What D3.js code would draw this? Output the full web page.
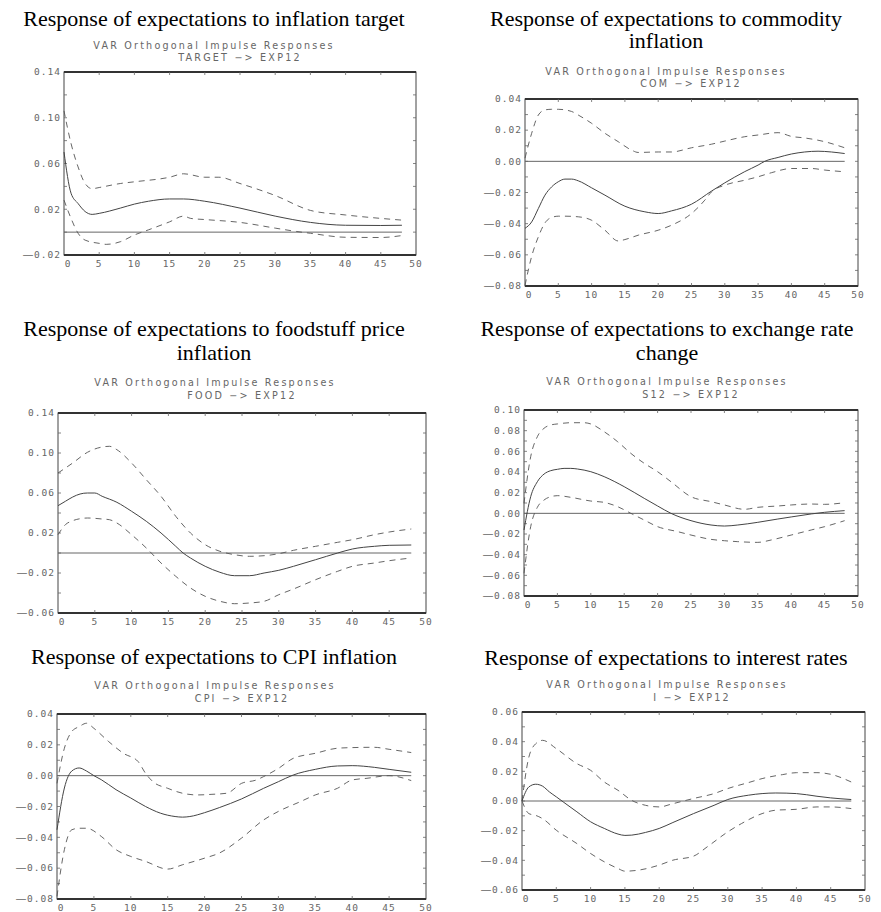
<!DOCTYPE html>
<html>
<head>
<meta charset="utf-8">
<script src="https://cdn.jsdelivr.net/npm/d3@7"></script>
<style>
  body { margin: 0; background: #fff; }
  .title { font-family: "Liberation Serif", "Times New Roman", serif; font-size: 20px; fill: #000; }
  .sub { font-family: "DejaVu Sans", sans-serif; font-size: 9.6px; letter-spacing: 2.2px; fill: #666; }
  .tick { font-family: "DejaVu Sans Mono", monospace; font-size: 9.5px; letter-spacing: 1px; fill: #666; }
  .dash { font-family: "DejaVu Sans", sans-serif; font-size: 11px; letter-spacing: 0.5px; }
</style>
</head>
<body>
<svg id="chart" width="881" height="912"></svg>
<script>
// impulse horizons 0..48, values as [horizon, response]
const targetResp  = [[0,0.070],[1,0.034],[2,0.025],[3,0.018],[4,0.0155],[5,0.0164],[8,0.021],[10,0.0245],[12,0.027],[15,0.029],[17,0.029],[20,0.027],[25,0.021],[30,0.014],[35,0.0085],[40,0.006],[45,0.0058],[48,0.006]];
const targetUpper = [[0,0.106],[1,0.0775],[2,0.057],[3,0.0425],[4,0.038],[5,0.039],[8,0.0425],[10,0.044],[15,0.048],[17,0.051],[20,0.048],[22,0.048],[25,0.0425],[30,0.032],[35,0.019],[40,0.015],[45,0.012],[48,0.0105]];
const targetLower = [[0,0.028],[1,0.012],[2,-0.001],[3,-0.007],[5,-0.0098],[6,-0.0107],[8,-0.0084],[10,-0.0025],[12,0.002],[15,0.009],[17,0.014],[18,0.012],[20,0.011],[25,0.0085],[30,0.0035],[33,0.0006],[35,-0.001],[40,-0.0045],[45,-0.0047],[48,-0.003]];

const comResp  = [[0,-0.043],[1,-0.0389],[2,-0.0303],[3,-0.0217],[4,-0.0164],[5,-0.0131],[6,-0.0114],[7,-0.0114],[8,-0.0125],[10,-0.017],[12,-0.0217],[15,-0.0288],[18,-0.0324],[20,-0.0335],[22,-0.0318],[25,-0.0275],[28,-0.0191],[30,-0.0138],[33,-0.0066],[35,-0.0024],[36,0],[38,0.0025],[40,0.0047],[42,0.006],[44,0.0065],[46,0.006],[48,0.005]];
const comUpper = [[0,0.002],[1,0.018],[2,0.0297],[3,0.033],[4,0.0334],[5,0.0334],[7,0.032],[8,0.0297],[10,0.0244],[12,0.018],[14,0.0126],[16,0.0072],[17,0.0057],[20,0.006],[22,0.006],[25,0.0087],[28,0.011],[30,0.013],[33,0.0158],[35,0.0169],[38,0.0184],[40,0.016],[42,0.015],[45,0.0126],[48,0.0087]];
const comLower = [[0,-0.0796],[1,-0.061],[2,-0.0485],[3,-0.0395],[4,-0.036],[5,-0.0352],[6,-0.0352],[8,-0.0356],[10,-0.0378],[12,-0.0442],[14,-0.0511],[15,-0.0502],[17,-0.0474],[20,-0.0442],[22,-0.041],[25,-0.0335],[27,-0.0249],[28,-0.0196],[30,-0.0153],[33,-0.0121],[35,-0.0099],[37,-0.0073],[40,-0.0046],[43,-0.0046],[45,-0.0056],[48,-0.0067]];

const foodResp  = [[0,0.0473],[1,0.0517],[2,0.056],[3,0.059],[4,0.06],[5,0.06],[6,0.0567],[8,0.0507],[10,0.0417],[12,0.0317],[14,0.02],[16,0.0067],[17,0],[18,-0.005],[20,-0.0133],[22,-0.0193],[24,-0.0227],[26,-0.0227],[28,-0.02],[30,-0.0173],[32,-0.0133],[35,-0.0067],[38,0],[40,0.004],[43,0.0067],[45,0.0077],[48,0.008]];
const foodUpper = [[0,0.08],[2,0.09],[4,0.1007],[6,0.106],[7,0.1067],[8,0.1033],[10,0.09],[12,0.0733],[14,0.0567],[16,0.0367],[18,0.02],[20,0.0083],[22,0.0017],[24,-0.0017],[26,-0.0033],[28,-0.0027],[30,-0.0007],[32,0.0027],[35,0.0067],[38,0.0107],[40,0.0133],[43,0.0183],[45,0.021],[48,0.024]];
const foodLower = [[0,0.0183],[1,0.0283],[2,0.0323],[3,0.0343],[4,0.035],[6,0.034],[7,0.0333],[8,0.03],[10,0.0183],[12,0.005],[14,-0.01],[16,-0.0233],[18,-0.035],[20,-0.0433],[22,-0.0483],[24,-0.0507],[26,-0.05],[28,-0.0483],[30,-0.0417],[32,-0.036],[35,-0.0267],[38,-0.0183],[40,-0.0133],[43,-0.01],[45,-0.0077],[48,-0.005]];

const s12Resp  = [[0,-0.0161],[1,0.0161],[2,0.0306],[3,0.038],[4,0.0413],[5,0.0426],[6,0.0435],[7,0.0435],[8,0.0429],[10,0.0403],[12,0.0355],[15,0.0258],[18,0.0145],[20,0.0071],[22,0],[25,-0.0071],[28,-0.0113],[30,-0.0123],[32,-0.0113],[35,-0.0087],[38,-0.0055],[40,-0.0035],[43,-0.0006],[45,0.001],[48,0.0026]];
const s12Upper = [[0,0.0097],[1,0.0548],[2,0.0742],[3,0.0823],[4,0.0855],[5,0.0865],[7,0.0877],[9,0.0877],[10,0.0865],[12,0.079],[14,0.0694],[16,0.058],[18,0.0484],[20,0.0403],[22,0.0306],[25,0.0161],[28,0.0113],[30,0.0081],[33,0.0039],[35,0.0058],[38,0.0071],[40,0.0081],[43,0.009],[45,0.0087],[48,0.0103]];
const s12Lower = [[0,-0.058],[1,-0.0129],[2,0.0058],[3,0.0129],[4,0.0161],[5,0.0171],[7,0.0155],[10,0.0119],[12,0.0106],[14,0.0065],[16,0],[18,-0.0065],[20,-0.0129],[23,-0.0177],[25,-0.021],[28,-0.0252],[30,-0.0265],[32,-0.0274],[35,-0.0281],[37,-0.0258],[40,-0.021],[43,-0.0161],[45,-0.0129],[48,-0.0071]];

const cpiResp  = [[0,-0.0351],[1,-0.008],[2,0.003],[3,0.005],[4,0.003],[5,0],[6,-0.0026],[8,-0.0091],[10,-0.0145],[12,-0.02],[14,-0.0243],[16,-0.0265],[17,-0.0269],[18,-0.0265],[20,-0.024],[22,-0.0207],[25,-0.0151],[28,-0.0082],[30,-0.0039],[32,0.0004],[35,0.0041],[38,0.0063],[40,0.0065],[43,0.0054],[45,0.0041],[48,0.0022]];
const cpiUpper = [[0,-0.005],[1,0.0178],[2,0.0286],[3,0.0318],[4,0.034],[5,0.0307],[7,0.0221],[9,0.0145],[11,0.0091],[12,0.0015],[13,-0.0039],[15,-0.0082],[17,-0.0114],[19,-0.0125],[21,-0.0121],[23,-0.0114],[25,-0.005],[27,-0.0028],[28,-0.0006],[30,0.0047],[32,0.0112],[35,0.0145],[38,0.0178],[40,0.0182],[43,0.0184],[45,0.0171],[48,0.015]];
const cpiLower = [[0,-0.0783],[1,-0.048],[2,-0.0351],[3,-0.0341],[4,-0.0341],[6,-0.0394],[8,-0.048],[10,-0.0524],[12,-0.0556],[15,-0.0606],[17,-0.0578],[20,-0.0535],[22,-0.0502],[25,-0.0405],[28,-0.0287],[30,-0.0232],[33,-0.0168],[35,-0.0125],[38,-0.0082],[40,-0.0028],[42,-0.0017],[45,0],[48,-0.0032]];

const iResp  = [[0,0],[1,0.0095],[2,0.0113],[3,0.01],[4,0.0061],[5,0.0028],[6,-0.0006],[8,-0.0073],[10,-0.014],[12,-0.0185],[14,-0.0223],[15,-0.0232],[16,-0.023],[18,-0.0212],[20,-0.0185],[22,-0.0145],[25,-0.0085],[28,-0.0029],[30,0.001],[33,0.0039],[35,0.005],[37,0.0054],[40,0.005],[43,0.0032],[45,0.0021],[48,0.001]];
const iUpper = [[0,0],[1,0.0296],[2,0.0386],[3,0.0409],[5,0.0353],[8,0.0252],[10,0.0207],[12,0.0128],[14,0.0072],[16,0.0004],[18,-0.0029],[20,-0.004],[22,-0.0018],[25,0.0017],[28,0.005],[30,0.0084],[33,0.0124],[35,0.0151],[38,0.0178],[40,0.0191],[43,0.0191],[45,0.018],[48,0.0128]];
const iLower = [[0,0],[1,-0.0085],[2,-0.0097],[3,-0.0119],[5,-0.0197],[8,-0.0287],[10,-0.0354],[12,-0.041],[14,-0.0455],[15,-0.0473],[17,-0.0466],[20,-0.0432],[22,-0.0399],[25,-0.0372],[27,-0.0309],[30,-0.0208],[32,-0.0152],[35,-0.0085],[37,-0.0062],[40,-0.0056],[43,-0.004],[45,-0.004],[48,-0.0051]];

const shocks = ["TARGET", "COM", "FOOD", "S12", "CPI", "I"];
const panelTitles = [
  ["Response of expectations to inflation target"],
  ["Response of expectations to commodity", "inflation"],
  ["Response of expectations to foodstuff price", "inflation"],
  ["Response of expectations to exchange rate", "change"],
  ["Response of expectations to CPI inflation"],
  ["Response of expectations to interest rates"]
];
const yRanges = [[-0.02, 0.14], [-0.08, 0.04], [-0.06, 0.14], [-0.08, 0.10], [-0.08, 0.04], [-0.06, 0.06]];
const yLabelSteps = [0.04, 0.02, 0.04, 0.02, 0.02, 0.02];
const yMinorSteps = [0.02, 0.01, 0.02, 0.01, 0.01, 0.01];
const xTicks = [0, 5, 10, 15, 20, 25, 30, 35, 40, 45, 50];
const lastHorizon = 48;

const series = [
  [targetResp, targetUpper, targetLower],
  [comResp, comUpper, comLower],
  [foodResp, foodUpper, foodLower],
  [s12Resp, s12Upper, s12Lower],
  [cpiResp, cpiUpper, cpiLower],
  [iResp, iUpper, iLower]
];

// where each little graph sits on the page
const layout = [
  {L: 64,  T: 72,  R: 416, B: 255, tx: 214, ty: [26],       sx: [214, 240], sy: [49, 61]},
  {L: 525, T: 99,  R: 858, B: 286, tx: 666, ty: [26, 48],   sx: [666, 691], sy: [75, 87]},
  {L: 58,  T: 413, R: 426, B: 613, tx: 214, ty: [336, 360], sx: [215, 242], sy: [386, 399]},
  {L: 524, T: 410, R: 858, B: 596, tx: 667, ty: [336, 360], sx: [667, 691], sy: [385, 398]},
  {L: 57,  T: 714, R: 426, B: 899, tx: 214, ty: [664],      sx: [215, 242], sy: [689, 702]},
  {L: 522, T: 712, R: 865, B: 890, tx: 666, ty: [665],      sx: [667, 692], sy: [688, 701]}
];

const svg = d3.select("#chart");
const steps = (lo, hi, st) => d3.range(Math.round((hi - lo) / st) + 1).map(i => +(lo + i * st).toFixed(4));

layout.forEach((p, k) => {
  const g = svg.append("g");
  const x = d3.scaleLinear().domain([0, 50]).range([p.L, p.R]);
  const y = d3.scaleLinear().domain(yRanges[k]).range([p.B, p.T]);

  // titles (the original serif is set a bit wide)
  panelTitles[k].forEach((t, i) => {
    g.append("text").attr("class", "title")
      .attr("transform", `translate(${p.tx},${p.ty[i]}) scale(1.1,1)`)
      .attr("text-anchor", "middle").text(t);
  });
  g.append("text").attr("class", "sub")
    .attr("x", p.sx[0]).attr("y", p.sy[0]).attr("text-anchor", "middle")
    .text("VAR Orthogonal Impulse Responses");
  g.append("text").attr("class", "sub")
    .attr("x", p.sx[1]).attr("y", p.sy[1]).attr("text-anchor", "middle")
    .text(shocks[k] + " \u2212> EXP12");

  // frame: thin sides, heavier top and bottom
  g.append("rect")
    .attr("x", p.L).attr("y", p.T)
    .attr("width", p.R - p.L).attr("height", p.B - p.T)
    .attr("fill", "none").attr("stroke", "#444").attr("stroke-width", 1);
  g.append("path")
    .attr("d", `M${p.L},${p.T}H${p.R}M${p.L},${p.B}H${p.R}`)
    .attr("stroke", "#333").attr("stroke-width", 1.8);

  const inner = xTicks.slice(1, -1);
  g.selectAll(".xt").data(inner).enter().append("path")
    .attr("d", d => `M${x(d)},${p.T}v3M${x(d)},${p.B}v-3`)
    .attr("stroke", "#666").attr("stroke-width", 0.8);

  const minor = steps(yRanges[k][0], yRanges[k][1], yMinorSteps[k]).slice(1, -1);
  g.selectAll(".yt").data(minor).enter().append("path")
    .attr("d", d => `M${p.L},${y(d)}h3M${p.R},${y(d)}h-3`)
    .attr("stroke", "#666").attr("stroke-width", 0.8);

  // y tick labels, negative ones with a long dash
  const yl = g.selectAll(".yl").data(steps(yRanges[k][0], yRanges[k][1], yLabelSteps[k])).enter()
    .append("text").attr("class", "tick")
    .attr("x", p.L - 3).attr("y", d => y(d))
    .attr("dy", "0.35em").attr("text-anchor", "end");
  yl.filter(d => d < 0).append("tspan").attr("class", "dash").text("\u2014");
  yl.append("tspan").text(d => Math.abs(d).toFixed(2));

  g.selectAll(".xl").data(xTicks).enter()
    .append("text").attr("class", "tick")
    .attr("x", d => x(d) + (d === 0 ? 4 : 0)).attr("y", p.B + 12)
    .attr("text-anchor", "middle")
    .text(d => d);

  // zero line
  g.append("line")
    .attr("x1", x(0)).attr("x2", x(lastHorizon))
    .attr("y1", y(0)).attr("y2", y(0))
    .attr("stroke", "#666").attr("stroke-width", 1);

  const line = d3.line()
    .x(d => x(d[0])).y(d => y(d[1]))
    .curve(d3.curveMonotoneX);

  const [resp, upper, lower] = series[k];
  [upper, lower].forEach(s => {
    g.append("path").datum(s)
      .attr("d", line)
      .attr("fill", "none").attr("stroke", "#555")
      .attr("stroke-width", 0.9).attr("stroke-dasharray", "6,5");
  });
  g.append("path").datum(resp)
    .attr("d", line)
    .attr("fill", "none").attr("stroke", "#444").attr("stroke-width", 1);
});
</script>
</body>
</html>
